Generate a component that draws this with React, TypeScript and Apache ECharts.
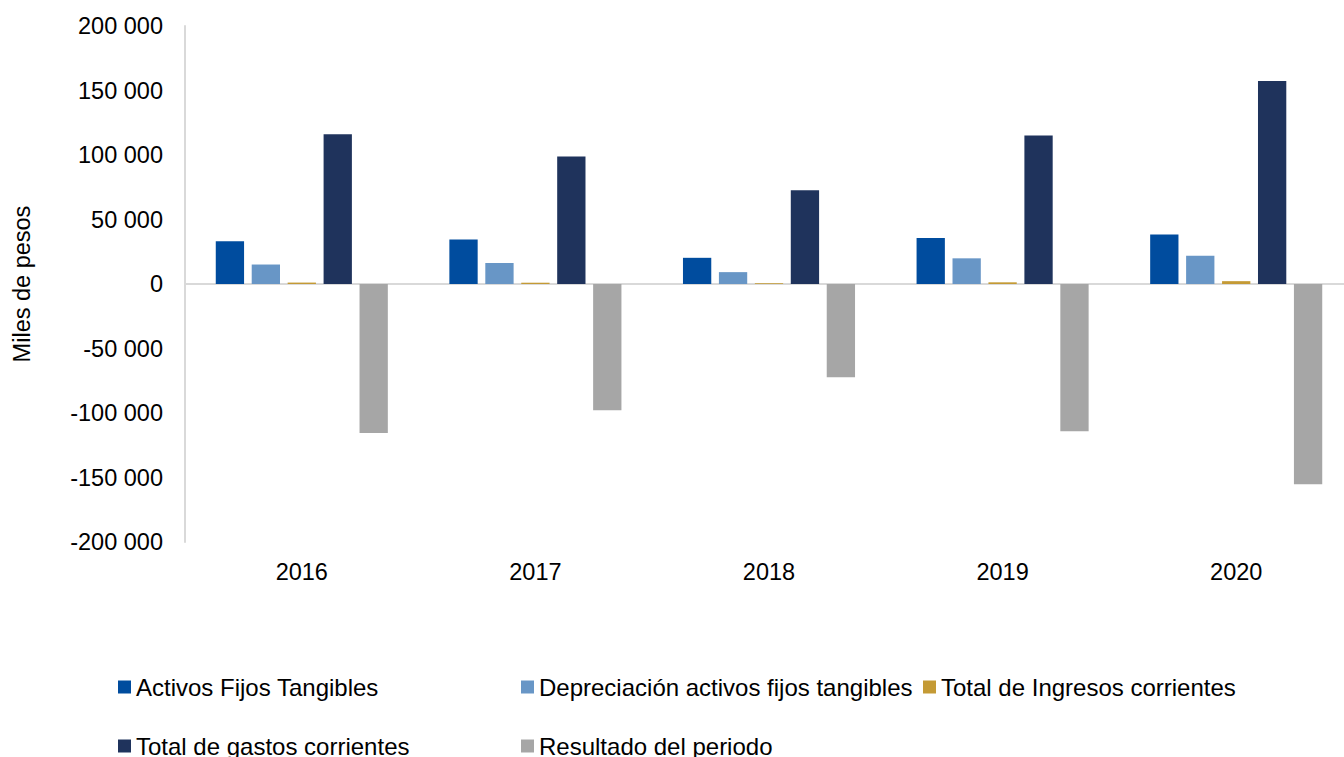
import React, { useEffect, useRef } from "react";
import * as echarts from "echarts";

const categories = ["2016", "2017", "2018", "2019", "2020"];
const activosFijos = [33200, 34400, 20300, 35700, 38400];
const depreciacion = [15100, 16300, 9200, 19900, 21900];
const ingresos = [1100, 1000, 600, 1300, 2200];
const gastos = [116100, 98900, 72600, 115200, 157300];
const resultado = [-115600, -97900, -72200, -114200, -155200];

const seriesNames = [
  "Activos Fijos Tangibles",
  "Depreciación activos fijos tangibles",
  "Total de Ingresos corrientes",
  "Total de gastos corrientes",
  "Resultado del periodo",
];
const colors = ["#004C9E", "#6896C6", "#C49A35", "#1F335C", "#A6A6A6"];

const FONT = "'Liberation Sans', Arial, sans-serif";

function fmt(v: number): string {
  const s = Math.abs(v).toString().replace(/\B(?=(\d{3})+(?!\d))/g, " ");
  return (v < 0 ? "-" : "") + s;
}

export default function App() {
  const ref = useRef<HTMLDivElement>(null);
  useEffect(() => {
    if (!ref.current) return;
    const chart = echarts.init(ref.current, undefined, { renderer: "svg" });
    const dataSets = [activosFijos, depreciacion, ingresos, gastos, resultado];
    const legendPos = [
      { left: 118, top: 675 },
      { left: 521, top: 675 },
      { left: 923, top: 675 },
      { left: 118, top: 734 },
      { left: 521, top: 734 },
    ];
    chart.setOption({
      animation: false,
      backgroundColor: "#fff",
      textStyle: { fontFamily: FONT },
      grid: { left: 185, top: 26, width: 1168, height: 516, containLabel: false },
      xAxis: [
        {
          type: "category",
          data: categories,
          axisLine: { show: true, onZero: true, lineStyle: { color: "#D9D9D9", width: 2 } },
          axisTick: { show: false },
          axisLabel: { show: false },
        },
        {
          type: "category",
          data: categories,
          position: "bottom",
          axisLine: { show: false, onZero: false },
          axisTick: { show: false },
          axisLabel: { color: "#000", fontSize: 23.5, fontFamily: FONT, margin: 18 },
        },
      ],
      yAxis: {
        type: "value",
        min: -200000,
        max: 200000,
        interval: 50000,
        name: "Miles de pesos",
        nameLocation: "middle",
        nameGap: 151,
        nameTextStyle: { color: "#000", fontSize: 23.5, fontFamily: FONT },
        axisLine: { show: true, lineStyle: { color: "#D9D9D9", width: 2 } },
        axisTick: { show: false },
        splitLine: { show: false },
        axisLabel: {
          color: "#000",
          fontSize: 23.5,
          fontFamily: FONT,
          margin: 22,
          formatter: (v: number) => fmt(v),
        },
      },
      legend: legendPos.map((p, i) => ({
        left: p.left,
        top: p.top,
        padding: 0,
        itemWidth: 13,
        itemHeight: 13,
        icon: "rect",
        data: [seriesNames[i]],
        textStyle: { color: "#000", fontSize: 24, fontFamily: FONT },
      })),
      series: dataSets.map((d, i) => ({
        name: seriesNames[i],
        type: "bar",
        xAxisIndex: 0,
        data: d,
        barWidth: 28.3,
        barGap: "27%",
        itemStyle: { color: colors[i] },
      })),
    });
    return () => chart.dispose();
  }, []);
  return (
    <div
      style={{
        position: "absolute",
        left: 0,
        top: 0,
        width: 1344,
        height: 757,
        overflow: "hidden",
      }}
    >
      <div ref={ref} style={{ position: "absolute", left: 0, top: 0, width: 1370, height: 757 }} />
    </div>
  );
}
